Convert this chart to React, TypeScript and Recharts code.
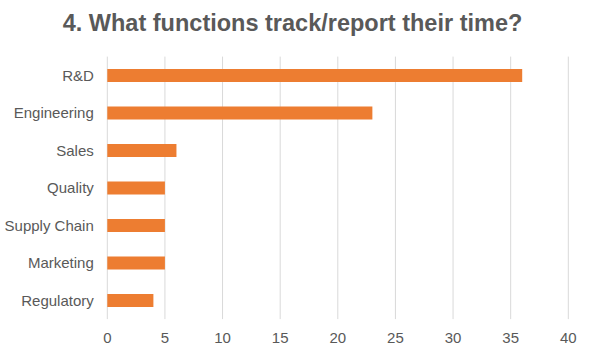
import React from 'react';
import { BarChart, Bar, XAxis, YAxis, CartesianGrid } from 'recharts';

const categories = ['R&D', 'Engineering', 'Sales', 'Quality', 'Supply Chain', 'Marketing', 'Regulatory'];
const counts = [36, 23, 6, 5, 5, 5, 4];
const xTicks = [0, 5, 10, 15, 20, 25, 30, 35, 40];

const data = categories.map((name, i) => ({ name, value: counts[i] }));

const FONT = 'Arial, "Liberation Sans", sans-serif';
const TEXT = '#595959';

export default function App() {
  return (
    <div style={{ position: 'absolute', left: 0, top: 0, width: 591, height: 355, background: '#fff', fontFamily: FONT }}>
      <style>{`body{margin:0}`}</style>
      <div
        style={{
          position: 'absolute',
          left: 0,
          width: 591,
          top: 11.8,
          textAlign: 'center',
          fontSize: 23.5,
          lineHeight: 1,
          fontWeight: 'bold',
          color: TEXT,
          fontFamily: FONT,
          paddingRight: 6,
          boxSizing: 'border-box',
        }}
      >
        4. What functions track/report their time?
      </div>
      <BarChart
        width={591}
        height={355}
        data={data}
        layout="vertical"
        margin={{ top: 56.6, right: 22.7, bottom: 0, left: 0 }}
        barCategoryGap="33%"
      >
        <CartesianGrid horizontal={false} vertical stroke="#d9d9d9" strokeWidth={1} />
        <XAxis
          type="number"
          domain={[0, 40]}
          ticks={xTicks}
          interval={0}
          axisLine={false}
          tickLine={false}
          tickSize={0}
          tickMargin={13}
          height={35.9}
          tick={{ fill: TEXT, fontSize: 15, fontFamily: FONT }}
        />
        <YAxis
          type="category"
          dataKey="name"
          width={107.3}
          axisLine={false}
          tickLine={false}
          tickSize={0}
          tickMargin={13.5}
          interval={0}
          tick={{ fill: TEXT, fontSize: 15, fontFamily: FONT }}
        />
        <Bar dataKey="value" fill="#ED7D31" isAnimationActive={false} />
      </BarChart>
    </div>
  );
}
